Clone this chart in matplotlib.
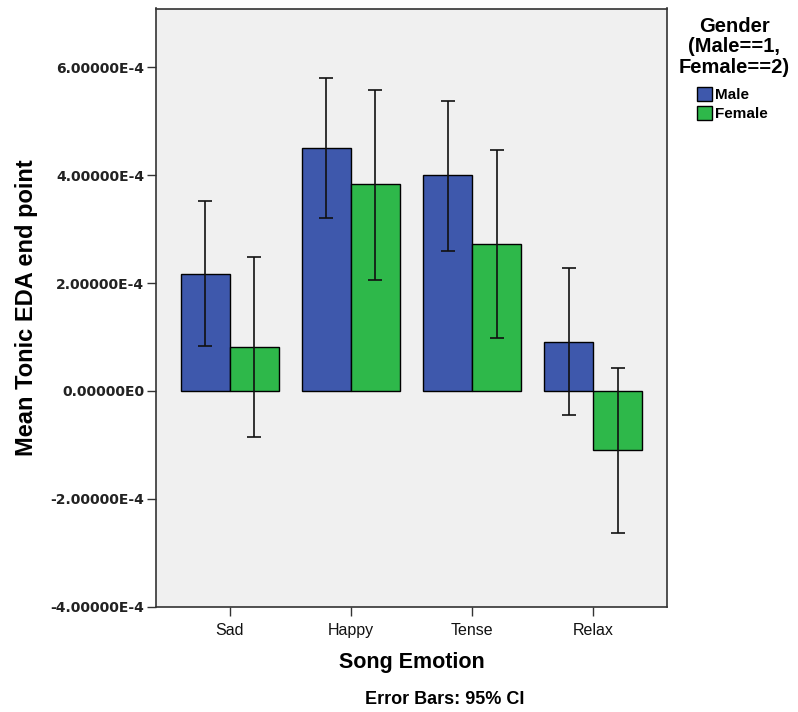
import matplotlib
matplotlib.use("Agg")
import matplotlib.pyplot as plt
import numpy as np
from matplotlib.patches import Patch

categories = ["Sad", "Happy", "Tense", "Relax"]
male_mean = [2.17e-4, 4.50e-4, 4.00e-4, 0.90e-4]
male_lo = [0.84e-4, 3.21e-4, 2.59e-4, -0.45e-4]
male_hi = [3.52e-4, 5.80e-4, 5.38e-4, 2.28e-4]
female_mean = [0.82e-4, 3.84e-4, 2.72e-4, -1.09e-4]
female_lo = [-0.85e-4, 2.05e-4, 0.98e-4, -2.64e-4]
female_hi = [2.48e-4, 5.57e-4, 4.47e-4, 0.42e-4]
yticks = [-4e-4, -2e-4, 0, 2e-4, 4e-4, 6e-4]
ytick_labels = ["-4.00000E-4", "-2.00000E-4", "0.00000E0", "2.00000E-4", "4.00000E-4", "6.00000E-4"]

blue = "#3E58AC"
green = "#2EB84A"

fig = plt.figure(figsize=(7.98, 7.12), dpi=100)
ax = fig.add_axes([156/798, 1 - 606.7/712, (667 - 156)/798, (606.7 - 8.5)/712])
ax.set_facecolor("#F0F0F0")

x = np.arange(len(categories))
w = 0.405
mm = np.array(male_mean); fm = np.array(female_mean)
male_err = [mm - np.array(male_lo), np.array(male_hi) - mm]
female_err = [fm - np.array(female_lo), np.array(female_hi) - fm]

ax.bar(x - w/2, mm, width=w, color=blue, edgecolor="black", linewidth=1.0, zorder=2)
ax.bar(x + w/2, fm, width=w, color=green, edgecolor="black", linewidth=1.0, zorder=2)
ax.errorbar(x - w/2, mm, yerr=male_err, fmt="none", ecolor="#111111", elinewidth=1.2,
            capsize=4.7, capthick=1.2, zorder=3)
ax.errorbar(x + w/2, fm, yerr=female_err, fmt="none", ecolor="#111111", elinewidth=1.2,
            capsize=4.7, capthick=1.2, zorder=3)

ax.set_xlim(-0.61, 3.61)
ax.set_ylim(-4e-4, 7.09e-4)
ax.set_yticks(yticks)
ax.set_yticklabels(ytick_labels, fontfamily="DejaVu Sans", fontweight="bold", fontsize=10, color="#222222")
ax.set_xticks(x)
ax.set_xticklabels(categories, fontfamily="Liberation Sans", fontsize=11.5, color="#111111")
ax.tick_params(axis="both", direction="out", length=6.5, width=1.0, color="#333333")
ax.tick_params(axis="x", pad=5)
ax.tick_params(axis="y", pad=2)
for s in ax.spines.values():
    s.set_color("#333333")
    s.set_linewidth(1.2)

ax.set_xlabel("Song Emotion", fontfamily="Liberation Sans", fontweight="bold", fontsize=15.5, labelpad=10)
ax.set_ylabel("Mean Tonic EDA end point", fontfamily="Liberation Sans", fontweight="bold", fontsize=17, labelpad=9)

fig.text(445/798, 1 - 700/712, "Error Bars: 95% CI", ha="center", va="center",
         fontfamily="Liberation Sans", fontweight="bold", fontsize=13)

fig.text(734/798, 1 - 47/712, "Gender\n(Male==1,\nFemale==2)", ha="center", va="center",
         fontfamily="Liberation Sans", fontweight="bold", fontsize=14.5, linespacing=1.12)

handles = [Patch(facecolor=blue, edgecolor="black", linewidth=1.0, label="Male"),
           Patch(facecolor=green, edgecolor="black", linewidth=1.0, label="Female")]
fig.legend(handles=handles, loc="upper left", bbox_to_anchor=(694/798, 1 - 84/712),
           frameon=False, prop={"family": "Liberation Sans", "weight": "bold", "size": 11},
           handlelength=1.0, handleheight=1.0, handletextpad=0.2, labelspacing=0.25,
           borderpad=0.2, borderaxespad=0)

fig.savefig("out.png", dpi=100)
